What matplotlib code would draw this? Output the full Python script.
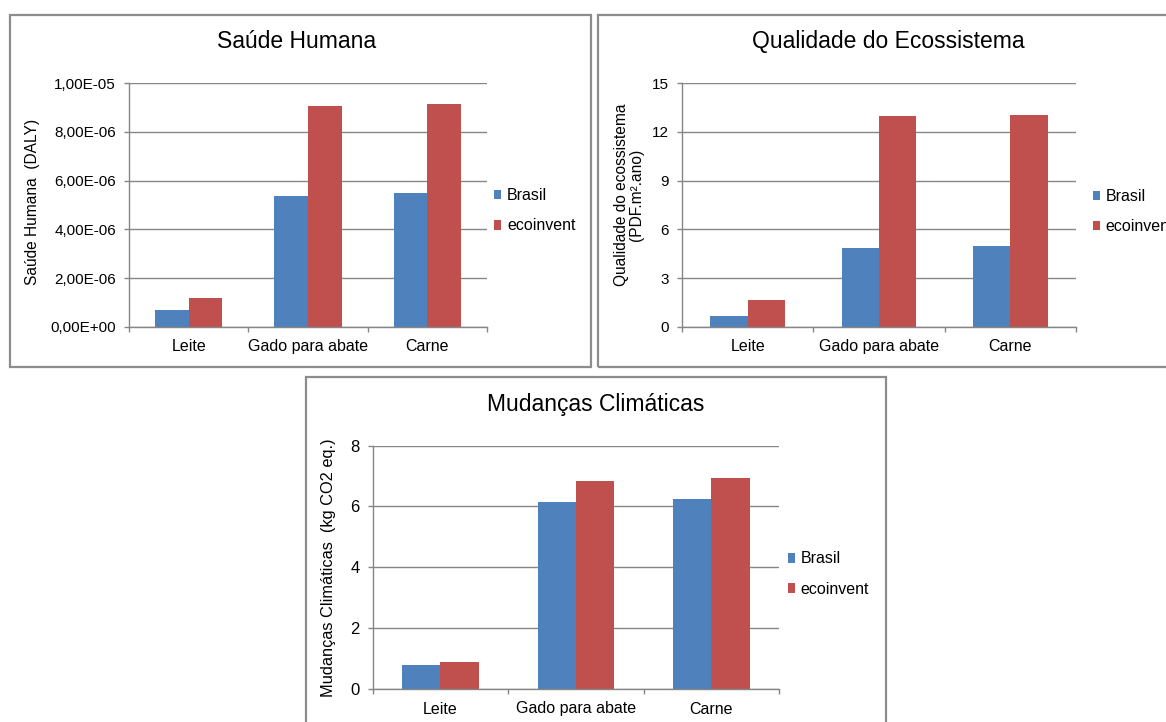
import matplotlib
matplotlib.use("Agg")
import matplotlib.pyplot as plt
from matplotlib.patches import Rectangle, Patch
import numpy as np

plt.rcParams['font.family'] = ['Liberation Sans', 'DejaVu Sans']

# ---------------- data ----------------
categories = ["Leite", "Gado para abate", "Carne"]
series_names = ["Brasil", "ecoinvent"]

saude_brasil = [0.69e-6, 5.39e-6, 5.51e-6]
saude_ecoinvent = [1.18e-6, 9.08e-6, 9.17e-6]
saude_ticks = [0, 2e-6, 4e-6, 6e-6, 8e-6, 1e-5]
saude_ticklabels = ["0,00E+00", "2,00E-06", "4,00E-06", "6,00E-06", "8,00E-06", "1,00E-05"]

ecos_brasil = [0.66, 4.87, 4.97]
ecos_ecoinvent = [1.66, 12.96, 13.06]
ecos_ticks = [0, 3, 6, 9, 12, 15]
ecos_ticklabels = ["0", "3", "6", "9", "12", "15"]

clima_brasil = [0.78, 6.13, 6.24]
clima_ecoinvent = [0.90, 6.83, 6.94]
clima_ticks = [0, 2, 4, 6, 8]
clima_ticklabels = ["0", "2", "4", "6", "8"]

# ---------------- style ----------------
W, H = 1166, 722
C_BR = "#4F81BD"
C_EC = "#C0504D"
GRID = "#868686"
FRAME = "#8c8c8c"

fig = plt.figure(figsize=(W / 100, H / 100), dpi=100)


def px_axes(l, t, r, b):
    return fig.add_axes([l / W, 1 - b / H, (r - l) / W, (b - t) / H])


def frame(l, t, r, b):
    fig.patches.append(Rectangle((l / W, 1 - b / H), (r - l) / W, (b - t) / H,
                                 transform=fig.transFigure, fill=False,
                                 edgecolor=FRAME, linewidth=1.6, zorder=0))


def panel(ax, v1, v2, ticks, ticklabels, legend_y):
    x = np.arange(len(categories))
    bw = 0.283
    ax.bar(x - bw / 2, v1, width=bw, color=C_BR, label=series_names[0], zorder=3)
    ax.bar(x + bw / 2, v2, width=bw, color=C_EC, label=series_names[1], zorder=3)
    ax.set_xlim(-0.5, len(categories) - 0.5)
    ax.set_ylim(0, ticks[-1])
    ax.set_yticks(ticks)
    ax.set_yticklabels(ticklabels)
    ax.set_xticks(x)
    ax.set_xticklabels(categories)
    ax.set_xticks(np.arange(len(categories) + 1) - 0.5, minor=True)
    ax.tick_params(axis='x', which='major', length=0, pad=9, labelsize=11.5)
    ax.tick_params(axis='x', which='minor', length=3.8, width=1, color=GRID, direction='out')
    ax.tick_params(axis='y', length=3.8, width=1, color=GRID, pad=5.5, labelsize=11)
    for s in ['top', 'right']:
        ax.spines[s].set_visible(False)
    for s in ['left', 'bottom']:
        ax.spines[s].set_color(GRID)
        ax.spines[s].set_linewidth(1)
        ax.spines[s].set_zorder(4)
    ax.yaxis.grid(True, color=GRID, linewidth=1)
    ax.set_axisbelow(True)
    ax.patch.set_alpha(0)
    handles = [Patch(facecolor=C_BR), Patch(facecolor=C_EC)]
    ax.legend(handles, series_names, loc='center left', bbox_to_anchor=legend_y,
              frameon=False, handlelength=0.45, handleheight=0.55,
              handletextpad=0.35, labelspacing=0.95, borderpad=0,
              borderaxespad=0, fontsize=11.5)


# ---- frames ----
frame(9.5, 14.7, 590.5, 366.7)
frame(597.7, 14.7, 1190, 366.7)
frame(305.5, 376.7, 885.7, 745)

# ---- Panel 1: Saúde Humana ----
ax1 = px_axes(129, 83.3, 487, 326.7)
panel(ax1, saude_brasil, saude_ecoinvent, saude_ticks, saude_ticklabels, (1.02, 0.476))
fig.text(296.6 / W, 1 - 48.3 / H, "Saúde Humana", ha='center', va='baseline', fontsize=16.5)
fig.text(32.5 / W, 1 - 202 / H, "Saúde Humana  (DALY)", rotation=90,
         ha='center', va='center', fontsize=11.2)

# ---- Panel 2: Qualidade do Ecossistema ----
ax2 = px_axes(682, 83.3, 1076, 326.7)
panel(ax2, ecos_brasil, ecos_ecoinvent, ecos_ticks, ecos_ticklabels, (1.042, 0.473))
fig.text(888.3 / W, 1 - 48.3 / H, "Qualidade do Ecossistema", ha='center', va='baseline', fontsize=16.5)
fig.text(629 / W, 1 - 195 / H, "Qualidade do ecossistema\n(PDF.m².ano)", rotation=90,
         ha='center', va='center', multialignment='center', fontsize=11.2, linespacing=1.05)

# ---- Panel 3: Mudanças Climáticas ----
ax3 = px_axes(372.7, 445.5, 779, 689)
panel(ax3, clima_brasil, clima_ecoinvent, clima_ticks, clima_ticklabels, (1.022, 0.472))
ax3.tick_params(axis='y', labelsize=12)
fig.text(595.6 / W, 1 - 410.7 / H, "Mudanças Climáticas", ha='center', va='baseline', fontsize=16.5)
fig.text(329 / W, 1 - 568 / H, "Mudanças Climáticas  (kg CO2 eq.)", rotation=90,
         ha='center', va='center', fontsize=11.8)

fig.savefig("out.png", dpi=100)
